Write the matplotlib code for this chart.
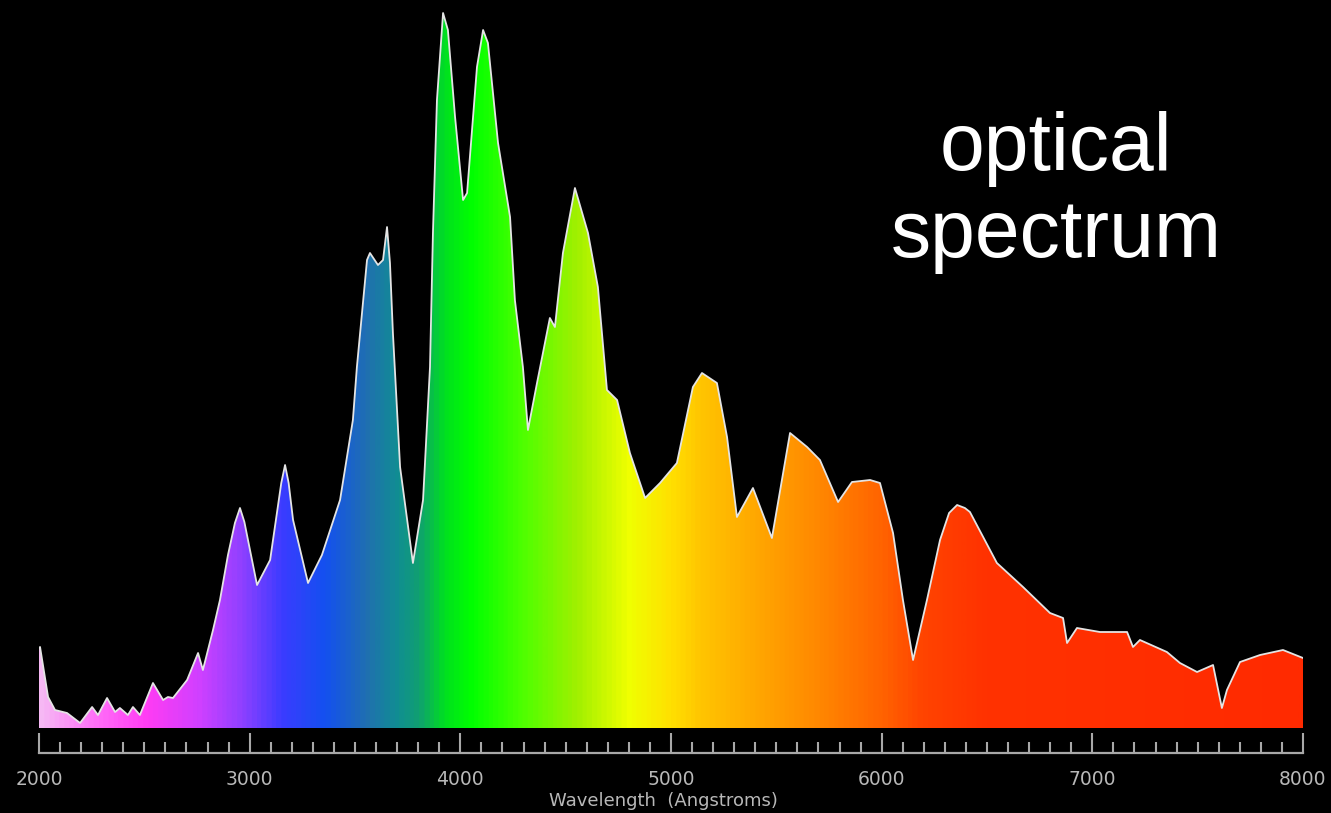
import numpy as np
import matplotlib
matplotlib.use("Agg")
import matplotlib.pyplot as plt
from matplotlib.colors import LinearSegmentedColormap
from matplotlib.patches import Polygon
from matplotlib.ticker import MultipleLocator

# spectrum, wavelength in Angstroms, flux in arbitrary units
wavelength = [2000, 2005, 2043, 2076, 2133, 2195, 2252, 2280, 2323, 2361, 2384, 2422, 2446, 2479,
              2541, 2589, 2612, 2636, 2703, 2755, 2778, 2826, 2859, 2897, 2930, 2954, 2975, 2992,
              3035, 3097, 3150, 3168, 3185, 3206, 3277, 3343, 3429, 3490, 3509, 3557, 3571, 3609,
              3633, 3652, 3666, 3680, 3714, 3775, 3823, 3856, 3870, 3889, 3918, 3941, 3975, 4013,
              4032, 4079, 4108, 4131, 4179, 4236, 4259, 4297, 4321, 4364, 4425, 4449, 4487, 4544,
              4606, 4653, 4696, 4744, 4805, 4877, 4948, 5028, 5104, 5147, 5218, 5266, 5313, 5389,
              5479, 5565, 5646, 5707, 5793, 5859, 5945, 5992, 6054, 6101, 6149, 6215, 6277, 6320,
              6358, 6395, 6419, 6547, 6671, 6799, 6861, 6880, 6927, 7036, 7165, 7193, 7226, 7354,
              7416, 7497, 7573, 7615, 7639, 7701, 7796, 7905, 8000]
flux = [80, 81, 31, 18, 15, 5, 21, 13, 30, 16, 20, 13, 21, 13,
        45, 28, 31, 30, 48, 75, 58, 98, 128, 173, 205, 220, 206, 188,
        143, 168, 245, 263, 245, 208, 145, 173, 228, 308, 361, 468, 475, 463,
        468, 501, 465, 395, 261, 165, 228, 361, 495, 628, 715, 698, 611, 528,
        535, 661, 698, 685, 585, 511, 428, 361, 298, 345, 410, 401, 475, 540,
        495, 441, 338, 328, 275, 230, 245, 265, 341, 355, 345, 291, 211, 240,
        190, 295, 281, 268, 226, 246, 248, 245, 195, 128, 68, 128, 188, 215,
        223, 220, 216, 165, 141, 115, 110, 85, 100, 96, 96, 81, 88, 76,
        65, 56, 63, 20, 38, 66, 73, 78, 70]

tick_values = [2000, 3000, 4000, 5000, 6000, 7000, 8000]
tick_labels = ["2000", "3000", "4000", "5000", "6000", "7000", "8000"]

# colour of the light at each wavelength
color_stops = [(2000, "#f6b8f4"), (2250, "#ff70f8"), (2500, "#ff3cf4"), (2750, "#d040ff"),
               (2950, "#9040ff"), (3150, "#3a3cff"), (3350, "#1450f0"), (3550, "#2070b0"),
               (3700, "#108e92"), (3800, "#10a070"), (3920, "#00e020"), (4050, "#00ff00"),
               (4300, "#50ff00"), (4550, "#a0f000"), (4800, "#f0ff00"), (5000, "#ffe000"),
               (5150, "#ffc400"), (5400, "#ffa800"), (5700, "#ff8800"), (6000, "#ff6400"),
               (6200, "#ff4400"), (6500, "#ff3200"), (8000, "#ff2a00")]

lo, hi = wavelength[0], wavelength[-1]
cmap = LinearSegmentedColormap.from_list(
    "spectrum", [((w - lo) / (hi - lo), c) for w, c in color_stops])

W, H = 1331, 813
fig = plt.figure(figsize=(W / 100, H / 100), dpi=100, facecolor="black")
ax = fig.add_axes([39 / W, 60 / H, 1264 / W, 753 / H])
ax.set_facecolor("black")
ax.set_xlim(lo, hi)
ax.set_ylim(-25, 728)

# gradient clipped to the area under the curve
verts = [(lo, 0)] + list(zip(wavelength, flux)) + [(hi, 0)]
outline = Polygon(verts, closed=True, facecolor="none", edgecolor="none")
ax.add_patch(outline)
ramp = np.linspace(lo, hi, 1200).reshape(1, -1)
im = ax.imshow(ramp, extent=[lo, hi, 0, 728], aspect="auto", origin="lower",
               cmap=cmap, vmin=lo, vmax=hi, interpolation="bilinear")
im.set_clip_path(outline)

ax.plot(wavelength, flux, color="#e4e4e4", lw=1.3, solid_joinstyle="round")

# ruler style axis
for s in ["top", "left", "right"]:
    ax.spines[s].set_visible(False)
ax.spines["bottom"].set_color("#a8a8a8")
ax.spines["bottom"].set_linewidth(1.6)
ax.set_yticks([])
ax.set_xticks(tick_values)
ax.set_xticklabels(tick_labels)
ax.xaxis.set_minor_locator(MultipleLocator(100))
ax.tick_params(axis="x", which="major", direction="in", length=14.4, width=1.5,
               color="#a8a8a8", pad=12, labelsize=13.5, labelcolor="#b8b8b8")
ax.tick_params(axis="x", which="minor", direction="in", length=7.9, width=1.5,
               color="#a8a8a8")

fig.text(663 / W, 1 - 801 / H, "Wavelength  (Angstroms)", color="#b8b8b8",
         fontsize=13, ha="center", va="center")

fig.text(1056 / W, 1 - 170 / H, "optical", color="white", fontsize=58,
         family="Liberation Sans", ha="center", va="baseline")
fig.text(1056 / W, 1 - 257 / H, "spectrum", color="white", fontsize=58,
         family="Liberation Sans", ha="center", va="baseline")

fig.savefig("out.png", dpi=100, facecolor="black")
